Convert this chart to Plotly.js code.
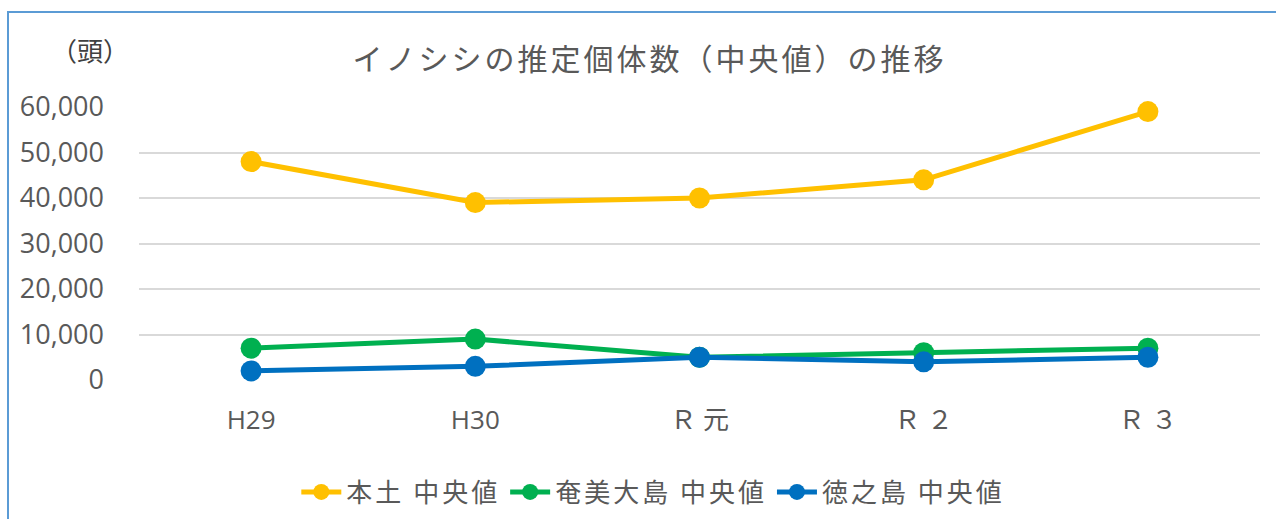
<!DOCTYPE html>
<html>
<head>
<meta charset="utf-8">
<script src="https://cdn.plot.ly/plotly-3.0.1.min.js"></script>
<style>
  html, body { margin: 0; padding: 0; background: #fff; }
  #chart { width: 1276px; height: 519px; }
  #frame { position: absolute; left: 7px; top: 11px; width: 1300px; height: 600px;
           border-left: 2px solid #5B9BD5; border-top: 2px solid #5B9BD5; pointer-events: none; }
  .gtitle { letter-spacing: 3px; }
  .legendtext { letter-spacing: 3px; }
</style>
</head>
<body>
<div id="chart"></div>
<div id="frame"></div>
<script>
const categories = ["H29", "H30", "Ｒ 元", "Ｒ ２", "Ｒ ３"];
const honto = [48000, 39000, 40000, 44000, 59000];
const amami = [7000, 9000, 5000, 6000, 7000];
const tokunoshima = [2000, 3000, 5000, 4000, 5000];
const seriesNames = ["本土 中央値", "奄美大島 中央値", "徳之島 中央値"];
const colors = ["#FFC000", "#00B050", "#0070C0"];
const yTicks = [0, 10000, 20000, 30000, 40000, 50000, 60000];
const yTickText = ["0", "10,000", "20,000", "30,000", "40,000", "50,000", "60,000"];

const font = "'Open Sans', 'Noto Sans CJK JP', sans-serif";
const cjk = "'Noto Sans CJK JP', sans-serif";

const series = [honto, amami, tokunoshima];
const traces = series.map((vals, i) => ({
  type: "scatter",
  mode: "lines+markers",
  name: seriesNames[i],
  x: categories,
  y: vals,
  cliponaxis: false,
  line: { color: colors[i], width: 5 },
  marker: { color: colors[i], size: 21 }
}));

const layout = {
  width: 1276,
  height: 519,
  margin: { l: 139, r: 16, t: 107, b: 139 },
  paper_bgcolor: "#ffffff",
  plot_bgcolor: "#ffffff",
  title: {
    text: "イノシシの推定個体数（中央値）の推移",
    font: { family: cjk, size: 30, color: "#595959" },
    xref: "container", x: 0.509, xanchor: "center",
    yref: "container", y: 0.885, yanchor: "middle"
  },
  xaxis: {
    type: "category",
    range: [-0.5, 4.5],
    showgrid: false,
    zeroline: false,
    showline: false,
    ticks: "",
    ticklabelstandoff: 22,
    tickfont: { family: font, size: 26, color: "#595959" }
  },
  yaxis: {
    range: [0, 60000],
    tickvals: yTicks,
    ticktext: yTickText,
    showgrid: true,
    gridcolor: "#D9D9D9",
    gridwidth: 2,
    zeroline: false,
    showline: false,
    ticks: "",
    ticklabelstandoff: 34,
    tickfont: { family: font, size: 27, color: "#595959" }
  },
  legend: {
    orientation: "h",
    x: 0.512, xref: "container", xanchor: "center",
    y: 0.052, yref: "container", yanchor: "middle",
    font: { family: cjk, size: 26, color: "#595959" },
    itemwidth: 40
  },
  annotations: [{
    text: "（頭）",
    xref: "paper", yref: "paper",
    x: -0.0437, y: 1.21,
    xanchor: "center", yanchor: "middle",
    showarrow: false,
    font: { family: cjk, size: 26, color: "#404040" }
  }],
  showlegend: true
};

Plotly.newPlot("chart", traces, layout, { displayModeBar: false, staticPlot: true });
</script>
</body>
</html>
